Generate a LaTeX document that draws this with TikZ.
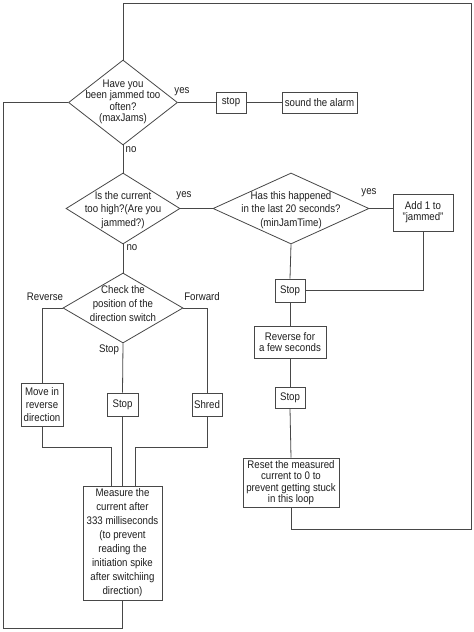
\documentclass[tikz,border=0pt]{standalone}
\usepackage{fontspec}
\setmainfont[FakeStretch=0.88]{Liberation Sans}
\usetikzlibrary{shapes.geometric}
\tikzset{
  basefont/.style={font=\fontsize{11}{#1}\selectfont},
  ln/.style={draw=black!72, line width=0.8pt},
  box/.style={draw=black!72, line width=0.8pt, rectangle, inner sep=0pt, align=center, text=black!88, basefont=11.5},
  dia/.style={draw=black!72, line width=0.8pt, diamond, inner sep=0pt},
  txt/.style={align=center, inner sep=0pt, text=black!88},
  lbl/.style={inner sep=0pt, text=black!88, basefont=11.5}
}
\begin{document}
\begin{tikzpicture}[x=1pt,y=-1pt]
\useasboundingbox[fill=white] (0,0) rectangle (474,632);

% decisions
\node[dia, minimum width=109pt, minimum height=85pt] (d1) at (123,102.5) {};
\node[txt, basefont=11.4] (d1t) at (123,102) {Have you\\been jammed too\\often?\\(maxJams)};
\node[dia, minimum width=114pt, minimum height=71pt] (d2) at (123,208.5) {};
\node[txt, basefont=13.5] (d2t) at (123,210) {Is the current\\too high?(Are you\\jammed?)};
\node[dia, minimum width=156pt, minimum height=71pt] (d3) at (291,208.5) {};
\node[txt, basefont=13.5] (d3t) at (291,210) {Has this happened\\in the last 20 seconds?\\(minJamTime)};
\node[dia, minimum width=120pt, minimum height=70pt] (d4) at (123,308) {};
\node[txt, basefont=14] (d4t) at (123,304) {Check the\\position of the\\direction switch};

% boxes
\node[box, minimum width=30pt, minimum height=21pt] (stopa) at (231,102.5) {stop};
\node[box, minimum width=75pt, minimum height=21pt] (alarm) at (319.5,102.5) {sound the alarm};
\node[box, minimum width=60pt, minimum height=37pt, basefont=11] (add) at (423,212.5) {Add 1 to\\"jammed"};
\node[box, minimum width=30pt, minimum height=23pt] (stopb) at (290,290.5) {Stop};
\node[box, minimum width=72pt, minimum height=32pt, basefont=11] (rev) at (290,342) {Reverse for\\a few seconds};
\node[box, minimum width=30pt, minimum height=21pt] (stopc) at (290,397.5) {Stop};
\node[box, minimum width=96pt, minimum height=49pt] (reset) at (291,482.5) {Reset the measured\\current to 0 to\\prevent getting stuck\\in this loop};
\node[box, minimum width=42pt, minimum height=43pt, basefont=13] (move) at (42,404.5) {Move in\\reverse\\direction};
\node[box, minimum width=31pt, minimum height=23pt] (stopd) at (122.5,404.5) {Stop};
\node[box, minimum width=30pt, minimum height=23pt] (shred) at (207,404.5) {Shred};
\node[box, minimum width=79pt, minimum height=114pt, basefont=14] (meas) at (122.5,543) {Measure the\\current after\\333 milliseconds\\(to prevent\\reading the\\initiation spike\\after switchiing\\direction)};

% labels
\node[lbl] (y1) at (182,92) {yes};
\node[lbl] (n1) at (131,150) {no};
\node[lbl] (y2) at (184,196) {yes};
\node[lbl] (y3) at (369,193) {yes};
\node[lbl] (n2) at (132,248) {no};
\node[lbl] (lr) at (45,297) {Reverse};
\node[lbl] (lf) at (202,297) {Forward};
\node[lbl] (ls) at (109,350) {Stop};

% helper coordinates
\coordinate (tr) at (471,3);
\coordinate (br) at (471,529);
\coordinate (bl) at (3,628);
\coordinate (mj) at (111,447);
\coordinate (sj) at (135,447);

% connectors
\draw[ln] (d1.east) -- (stopa.west);
\draw[ln] (stopa.east) -- (alarm.west);
\draw[ln] (d1.south) -- (d2.north);
\draw[ln] (d2.south) -- (d4.north);
\draw[ln] (d2.east) -- (d3.west);
\draw[ln] (d3.east) -- (d3.east -| add.west);
\draw[ln] (d3.south) -- (stopb.north);
\draw[ln] (add.south) |- (stopb.east);
\draw[ln] (stopb.south) -- (rev.north);
\draw[ln] (rev.south) -- (stopc.north);
\draw[ln] (stopc.south) -- (reset.north);
\draw[ln] (reset.south) |- (br) -- (tr) -| (d1.north);
\draw[ln] (d4.west) -| (move.north);
\draw[ln] (d4.east) -| (shred.north);
\draw[ln] (d4.south) -- (stopd.north);
\draw[ln] (move.south) |- (mj) -- (mj |- meas.north);
\draw[ln] (stopd.south) -- (meas.north);
\draw[ln] (shred.south) |- (sj) -- (sj |- meas.north);
\draw[ln] (meas.south) |- (bl) |- (d1.west);
\end{tikzpicture}
\end{document}
